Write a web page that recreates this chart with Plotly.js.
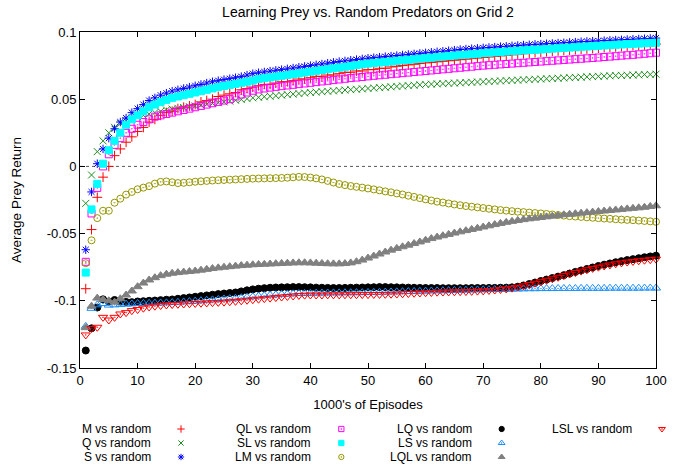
<!DOCTYPE html>
<html>
<head>
<meta charset="utf-8">
<script src="https://cdn.plot.ly/plotly-3.0.1.min.js"></script>
<style>html,body{margin:0;padding:0;background:#fff;}#chart{width:678px;height:465px;}</style>
</head>
<body>
<div id="chart"></div>
<script>
const episodes = [1,2,3,4,5,6,7,8,9,10,11,12,13,14,15,16,17,18,19,20,21,22,23,24,25,26,27,28,29,30,31,32,33,34,35,36,37,38,39,40,41,42,43,44,45,46,47,48,49,50,51,52,53,54,55,56,57,58,59,60,61,62,63,64,65,66,67,68,69,70,71,72,73,74,75,76,77,78,79,80,81,82,83,84,85,86,87,88,89,90,91,92,93,94,95,96,97,98,99,100];

const seriesNames = ["M vs random","Q vs random","S vs random","QL vs random","SL vs random","LM vs random","LQ vs random","LS vs random","LQL vs random","LSL vs random"];

const mVsRandom = [-0.091,-0.047,-0.023,-0.008,0.000,0.008,0.013,0.018,0.022,0.026,
0.029,0.033,0.035,0.038,0.040,0.041,0.043,0.044,0.045,0.046,
0.048,0.049,0.050,0.052,0.053,0.054,0.055,0.057,0.058,0.059,
0.060,0.061,0.061,0.062,0.063,0.063,0.064,0.065,0.065,0.066,
0.067,0.067,0.068,0.068,0.069,0.070,0.070,0.071,0.071,0.072,
0.072,0.073,0.073,0.074,0.0745,0.075,0.0755,0.076,0.0765,0.077,
0.0774,0.0778,0.0782,0.0786,0.079,0.0794,0.0798,0.0802,0.0806,0.081,
0.0814,0.0818,0.0822,0.0826,0.083,0.0834,0.0838,0.0842,0.0846,0.085,
0.0853,0.0856,0.0859,0.0862,0.0865,0.0868,0.0871,0.0874,0.0877,0.088,
0.0883,0.0886,0.0889,0.0892,0.0895,0.0898,0.0901,0.0904,0.0907,0.091];

const qVsRandom = [-0.0275,-0.0064,0.011,0.019,0.025,0.029,0.032,0.034,0.036,0.037,
0.038,0.039,0.040,0.041,0.042,0.0426,0.0432,0.0438,0.0444,0.045,
0.0456,0.0462,0.0468,0.0474,0.048,0.0486,0.0492,0.0498,0.0504,0.051,
0.0514,0.0518,0.0522,0.0526,0.053,0.0534,0.0538,0.0542,0.0546,0.055,
0.0553,0.0556,0.0559,0.0562,0.0565,0.0568,0.0571,0.0574,0.0577,0.058,
0.0583,0.0586,0.0589,0.0592,0.0595,0.0598,0.0601,0.0604,0.0607,0.061,
0.0612,0.0614,0.0616,0.0618,0.062,0.0622,0.0624,0.0626,0.0628,0.063,
0.0632,0.0634,0.0636,0.0638,0.064,0.0642,0.0644,0.0646,0.0648,0.065,
0.0652,0.0654,0.0656,0.0658,0.066,0.0662,0.0664,0.0666,0.0668,0.067,
0.0672,0.0674,0.0676,0.0677,0.0678,0.068,0.0681,0.0683,0.0684,0.0686];

const sVsRandom = [-0.062,-0.019,0.002,0.013,0.021,0.028,0.033,0.036,0.040,0.043,
0.046,0.049,0.051,0.053,0.0545,0.056,0.057,0.058,0.059,0.060,
0.061,0.062,0.063,0.0638,0.0646,0.0653,0.066,0.0668,0.0679,0.069,
0.0697,0.0703,0.0709,0.0715,0.072,0.0726,0.0732,0.0738,0.0744,0.075,
0.0756,0.0762,0.0768,0.0774,0.078,0.0785,0.079,0.0795,0.080,0.0805,
0.0809,0.0813,0.0817,0.0821,0.0825,0.0829,0.0833,0.0837,0.0841,0.0845,
0.0849,0.0853,0.0857,0.0861,0.0865,0.087,0.0873,0.0876,0.0879,0.0882,
0.0885,0.0888,0.0891,0.0894,0.0897,0.090,0.0903,0.0905,0.0908,0.091,
0.0913,0.0915,0.0918,0.092,0.0923,0.0925,0.0928,0.093,0.0932,0.0934,
0.0936,0.0938,0.094,0.0942,0.0944,0.0946,0.0948,0.095,0.0952,0.0955];

const qlVsRandom = [-0.071,-0.035,-0.016,0.000,0.009,0.016,0.021,0.025,0.028,0.031,
0.033,0.035,0.037,0.038,0.039,0.040,0.041,0.042,0.043,0.044,
0.045,0.046,0.047,0.048,0.049,0.050,0.052,0.0535,0.055,0.0563,
0.0573,0.058,0.0586,0.0592,0.0597,0.0602,0.0607,0.0612,0.0617,0.0622,
0.0627,0.0632,0.0637,0.0642,0.0647,0.0652,0.0657,0.0661,0.0665,0.067,
0.0674,0.0678,0.0682,0.0686,0.069,0.0694,0.0698,0.0702,0.0706,0.071,
0.0714,0.0718,0.0722,0.0726,0.073,0.0734,0.0738,0.0742,0.0746,0.075,
0.0753,0.0756,0.0759,0.0762,0.0765,0.0768,0.0771,0.0774,0.0777,0.078,
0.0783,0.0786,0.0789,0.0792,0.0795,0.0798,0.0801,0.0804,0.0807,0.081,
0.0814,0.0817,0.082,0.0824,0.0827,0.083,0.0834,0.0838,0.0842,0.0846];

const slVsRandom = [-0.079,-0.032,-0.013,0.002,0.012,0.019,0.025,0.031,0.035,0.038,
0.041,0.044,0.046,0.048,0.0495,0.051,0.052,0.053,0.054,0.055,
0.056,0.057,0.058,0.059,0.0598,0.0606,0.0614,0.0622,0.063,0.0638,
0.065,0.0656,0.0662,0.0668,0.0674,0.068,0.0686,0.0692,0.0698,0.0705,
0.0711,0.0717,0.0723,0.0729,0.0735,0.0741,0.0747,0.0753,0.0759,0.0765,
0.0769,0.0773,0.0777,0.0781,0.0785,0.0789,0.0793,0.0797,0.0801,0.0805,
0.0809,0.0813,0.0817,0.0821,0.0825,0.0828,0.0831,0.0834,0.0838,0.0842,
0.0845,0.0848,0.0851,0.0854,0.0857,0.086,0.0863,0.0866,0.0868,0.087,
0.0873,0.0876,0.0879,0.0882,0.0884,0.0887,0.089,0.0892,0.0895,0.0897,
0.090,0.0902,0.0905,0.0907,0.091,0.0912,0.0914,0.0916,0.0918,0.092];

const lmVsRandom = [-0.072,-0.055,-0.0385,-0.033,-0.033,-0.027,-0.024,-0.021,-0.019,-0.017,
-0.0158,-0.0147,-0.0128,-0.0115,-0.0112,-0.0118,-0.0124,-0.0122,-0.0118,-0.0114,
-0.0111,-0.0108,-0.0105,-0.0103,-0.0101,-0.0099,-0.0097,-0.0095,-0.0093,-0.0091,
-0.009,-0.0089,-0.0088,-0.0087,-0.0086,-0.0084,-0.0081,-0.0078,-0.0079,-0.0083,
-0.0089,-0.0097,-0.0108,-0.012,-0.0131,-0.0139,-0.0146,-0.0152,-0.0158,-0.0164,
-0.0171,-0.0178,-0.0186,-0.0193,-0.0201,-0.0209,-0.0218,-0.0227,-0.0236,-0.0245,
-0.0254,-0.0262,-0.0269,-0.0276,-0.0283,-0.0289,-0.0295,-0.030,-0.0305,-0.031,
-0.0315,-0.032,-0.0325,-0.0329,-0.0333,-0.0337,-0.034,-0.0344,-0.0347,-0.035,
-0.0354,-0.0358,-0.0362,-0.0366,-0.037,-0.0373,-0.0376,-0.0379,-0.0382,-0.0385,
-0.0388,-0.039,-0.0393,-0.0396,-0.0398,-0.040,-0.0403,-0.0406,-0.0409,-0.0412];

const lqVsRandom = [-0.137,-0.1205,-0.105,-0.0989,-0.1006,-0.0994,-0.1006,-0.1008,-0.101,-0.1005,
-0.1003,-0.100,-0.0998,-0.0995,-0.0992,-0.099,-0.0985,-0.098,-0.0975,-0.097,
-0.0965,-0.096,-0.0955,-0.095,-0.0946,-0.0942,-0.0938,-0.093,-0.0922,-0.0915,
-0.091,-0.0906,-0.0903,-0.0901,-0.090,-0.0899,-0.0898,-0.0898,-0.0899,-0.090,
-0.0902,-0.0903,-0.0904,-0.0905,-0.0905,-0.0904,-0.0903,-0.0902,-0.0901,-0.090,
-0.0899,-0.0898,-0.0898,-0.0899,-0.090,-0.0901,-0.0902,-0.0903,-0.0904,-0.0905,
-0.0905,-0.0905,-0.0906,-0.0906,-0.0906,-0.0906,-0.0906,-0.0905,-0.0905,-0.0905,
-0.0904,-0.0904,-0.0903,-0.0902,-0.090,-0.0895,-0.0886,-0.0875,-0.0864,-0.0853,
-0.0842,-0.0831,-0.082,-0.0809,-0.0797,-0.0785,-0.0774,-0.0763,-0.0752,-0.0741,
-0.0731,-0.0722,-0.0713,-0.0705,-0.0697,-0.069,-0.0683,-0.0676,-0.067,-0.0664];

const lsVsRandom = [-0.119,-0.1056,-0.103,-0.102,-0.1032,-0.103,-0.1028,-0.1025,-0.1023,-0.102,
-0.1019,-0.1018,-0.1017,-0.1016,-0.1015,-0.1013,-0.1011,-0.1008,-0.1005,-0.1002,
-0.0999,-0.0996,-0.0993,-0.099,-0.0987,-0.0984,-0.0981,-0.0977,-0.0973,-0.0969,
-0.0965,-0.0961,-0.0958,-0.0955,-0.0952,-0.095,-0.0948,-0.0946,-0.0945,-0.0944,
-0.0943,-0.0942,-0.0942,-0.0941,-0.0941,-0.094,-0.094,-0.0939,-0.0939,-0.0938,
-0.0937,-0.0936,-0.0935,-0.0934,-0.0933,-0.0932,-0.0931,-0.093,-0.0929,-0.0928,
-0.0927,-0.0926,-0.0925,-0.0924,-0.0923,-0.0922,-0.0921,-0.092,-0.0919,-0.0918,
-0.0917,-0.0916,-0.0915,-0.0914,-0.0913,-0.0912,-0.0911,-0.091,-0.091,-0.0909,
-0.0909,-0.0909,-0.0908,-0.0908,-0.0908,-0.0908,-0.0907,-0.0907,-0.0907,-0.0907,
-0.0907,-0.0906,-0.0906,-0.0906,-0.0906,-0.0906,-0.0906,-0.0905,-0.0905,-0.0905];

const lqlVsRandom = [-0.120,-0.104,-0.098,-0.099,-0.100,-0.101,-0.0985,-0.0957,-0.0927,-0.0895,
-0.0868,-0.0845,-0.0828,-0.0813,-0.0802,-0.0795,-0.079,-0.0786,-0.0782,-0.0778,
-0.0772,-0.0766,-0.076,-0.0755,-0.075,-0.0746,-0.0742,-0.0738,-0.0735,-0.0732,
-0.073,-0.0728,-0.0726,-0.0724,-0.0722,-0.072,-0.0718,-0.0717,-0.0717,-0.0718,
-0.072,-0.0722,-0.0724,-0.0725,-0.0725,-0.0723,-0.0718,-0.0709,-0.0697,-0.0682,
-0.0667,-0.0652,-0.0637,-0.0623,-0.061,-0.0598,-0.0586,-0.0574,-0.0562,-0.0549,
-0.0537,-0.0526,-0.0516,-0.0506,-0.0496,-0.0487,-0.0478,-0.0469,-0.046,-0.0451,
-0.0442,-0.0433,-0.0424,-0.0416,-0.0409,-0.0402,-0.0396,-0.039,-0.0385,-0.038,
-0.0375,-0.037,-0.0365,-0.036,-0.0356,-0.0352,-0.0348,-0.0344,-0.034,-0.0336,
-0.0332,-0.0328,-0.0324,-0.032,-0.0316,-0.0312,-0.0308,-0.0304,-0.0298,-0.0293];

const lslVsRandom = [-0.1254,-0.1205,-0.1197,-0.1123,-0.1143,-0.1123,-0.1098,-0.1088,-0.1073,-0.1065,
-0.1055,-0.1046,-0.104,-0.1035,-0.1031,-0.1028,-0.1026,-0.1024,-0.1022,-0.102,
-0.1018,-0.1016,-0.1014,-0.1012,-0.101,-0.1007,-0.1004,-0.100,-0.0996,-0.0992,
-0.0988,-0.0984,-0.098,-0.0976,-0.0972,-0.0968,-0.0964,-0.096,-0.0958,-0.0957,
-0.0957,-0.0957,-0.0956,-0.0956,-0.0956,-0.0955,-0.0955,-0.0955,-0.0954,-0.0954,
-0.0953,-0.0953,-0.0952,-0.0951,-0.095,-0.0948,-0.0946,-0.0944,-0.0942,-0.094,
-0.0938,-0.0936,-0.0935,-0.0934,-0.0933,-0.0932,-0.0931,-0.093,-0.0928,-0.0926,
-0.0923,-0.092,-0.0916,-0.0912,-0.0906,-0.0898,-0.0889,-0.0879,-0.0869,-0.0858,
-0.0847,-0.0836,-0.0825,-0.0813,-0.0801,-0.079,-0.0779,-0.0769,-0.0759,-0.075,
-0.0741,-0.0733,-0.0725,-0.0718,-0.0712,-0.0707,-0.0702,-0.0698,-0.0694,-0.069];

const xTickValues = [0,10,20,30,40,50,60,70,80,90,100];
const yTickValues = [-0.15,-0.1,-0.05,0,0.05,0.1];
const yTickLabels = ["-0.15","-0.1","-0.05","0","0.05","0.1"];

const seriesValues = [mVsRandom,qVsRandom,sVsRandom,qlVsRandom,slVsRandom,lmVsRandom,lqVsRandom,lsVsRandom,lqlVsRandom,lslVsRandom];

// styles (gnuplot-like point types)
const styles = [
  {color:"#ff0000", symbol:"cross-thin-open", size:7},
  {color:"#1f8f1f", symbol:"x-thin-open", size:7},
  {color:"#0000ff", symbol:"asterisk-open", size:7},
  {color:"#ff00ff", symbol:"square-open-dot", size:7},
  {color:"#00ffff", symbol:"square", size:7},
  {color:"#969600", symbol:"circle-open-dot", size:7},
  {color:"#000000", symbol:"circle", size:7},
  {color:"#1e90ff", symbol:"triangle-up-open-dot", size:8},
  {color:"#808080", symbol:"triangle-up", size:8},
  {color:"#ff0000", symbol:"triangle-down-open-dot", size:8}
];
const KEY_SCALE = 0.75;

const FONT = "Liberation Sans, Arial, Helvetica, sans-serif";

const traces = [];
const annotations = [];
seriesNames.forEach((name, i) => {
  const st = styles[i];
  traces.push({
    type: "scatter", mode: "markers", name: name,
    x: episodes, y: seriesValues[i],
    xaxis: "x", yaxis: "y",
    marker: {color: st.color, symbol: st.symbol, size: st.size, line: {color: st.color, width: 1}},
    showlegend: false, cliponaxis: false
  });
  // legend key: column = floor(i/3), row = i % 3
  const col = Math.floor(i / 3), row = i % 3;
  traces.push({
    type: "scatter", mode: "markers", name: name,
    x: [col], y: [row], xaxis: "x2", yaxis: "y2",
    marker: {color: st.color, symbol: st.symbol, size: st.size * KEY_SCALE, line: {color: st.color, width: 1}},
    showlegend: false, cliponaxis: false, hoverinfo: "skip"
  });
  annotations.push({
    text: name, x: col, y: row, xref: "x2", yref: "y2",
    xanchor: "right", yanchor: "middle", xshift: -28, showarrow: false,
    font: {family: FONT, size: 12, color: "#000"}
  });
});

const layout = {
  width: 678, height: 465,
  margin: {l: 80, r: 5, t: 32, b: 2, pad: 0},
  paper_bgcolor: "#ffffff", plot_bgcolor: "#ffffff",
  font: {family: FONT, size: 13, color: "#000"},
  showlegend: false,
  title: {text: "Learning Prey vs. Random Predators on Grid 2", x: 368/678, xref: "container", xanchor: "center", y: 1 - 12/465, yref: "container", yanchor: "middle", font: {family: FONT, size: 14, color: "#000"}},
  xaxis: {
    domain: [0, 576/593], range: [0, 100], anchor: "y",
    tickvals: xTickValues, ticks: "inside", ticklen: 5, tickwidth: 1, tickcolor: "#000",
    showline: true, linecolor: "#000", linewidth: 1, mirror: "ticks",
    showgrid: false, zeroline: false,
    tickfont: {family: FONT, size: 13},
    title: {text: "1000's of Episodes", font: {family: FONT, size: 13}, standoff: 13}
  },
  yaxis: {
    domain: [95/431, 1], range: [-0.15, 0.1], anchor: "x",
    tickvals: yTickValues, ticktext: yTickLabels,
    ticks: "inside", ticklen: 5, tickwidth: 1, tickcolor: "#000",
    showline: true, linecolor: "#000", linewidth: 1, mirror: "ticks",
    showgrid: false, zeroline: false,
    tickfont: {family: FONT, size: 13},
    title: {text: "Average Prey Return", font: {family: FONT, size: 13.5}, standoff: 22}
  },
  xaxis2: {domain: [0, 1], range: [-101/160.33, -101/160.33 + 593/160.33], anchor: "y2", visible: false, fixedrange: true},
  yaxis2: {domain: [0, 43/431], range: [34/14, -9/14], anchor: "x2", visible: false, fixedrange: true},
  shapes: [{
    type: "line", xref: "x", yref: "y", x0: 0, x1: 100, y0: 0, y1: 0,
    line: {color: "#555555", width: 1, dash: "dot"}, layer: "below"
  }],
  annotations: annotations
};

Plotly.newPlot("chart", traces, layout, {staticPlot: true, displayModeBar: false});
</script>
</body>
</html>
